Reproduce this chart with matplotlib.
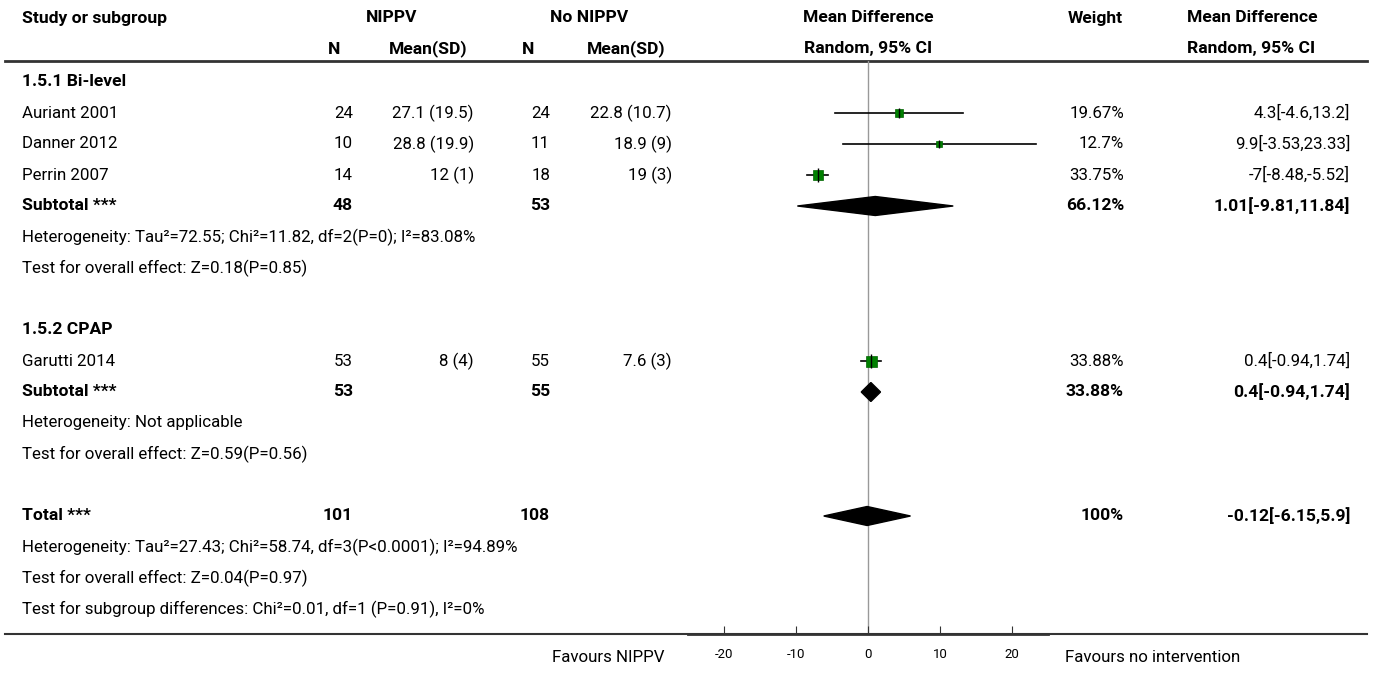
import matplotlib.pyplot as plt
import matplotlib
from matplotlib.patches import Polygon

plt.rcParams['font.family'] = ['Roboto', 'DejaVu Sans']

# study data
studies = ["Auriant 2001", "Danner 2012", "Perrin 2007", "Garutti 2014"]
group_of = [0, 0, 0, 1]
n_nippv = [24, 10, 14, 53]
mean_nippv = [27.1, 28.8, 12, 8]
sd_nippv = [19.5, 19.9, 1, 4]
n_ctrl = [24, 11, 18, 55]
mean_ctrl = [22.8, 18.9, 19, 7.6]
sd_ctrl = [10.7, 9, 3, 3]
md = [4.3, 9.9, -7, 0.4]
md_lo = [-4.6, -3.53, -8.48, -0.94]
md_hi = [13.2, 23.33, -5.52, 1.74]
weights = [19.67, 12.7, 33.75, 33.88]

# subgroups + total
group_names = ["1.5.1 Bi-level", "1.5.2 CPAP"]
sub_n_nippv = [48, 53]
sub_n_ctrl = [53, 55]
sub_md = [1.01, 0.4]
sub_lo = [-9.81, -0.94]
sub_hi = [11.84, 1.74]
sub_weight = [66.12, 33.88]
sub_het = ["Heterogeneity: Tau²=72.55; Chi²=11.82, df=2(P=0); I²=83.08%",
           "Heterogeneity: Not applicable"]
sub_test = ["Test for overall effect: Z=0.18(P=0.85)",
            "Test for overall effect: Z=0.59(P=0.56)"]

tot_n_nippv = 101
tot_n_ctrl = 108
tot_md, tot_lo, tot_hi = -0.12, -6.15, 5.9
tot_weight = 100
tot_notes = ["Heterogeneity: Tau²=27.43; Chi²=58.74, df=3(P<0.0001); I²=94.89%",
             "Test for overall effect: Z=0.04(P=0.97)",
             "Test for subgroup differences: Chi²=0.01, df=1 (P=0.91), I²=0%"]

axis_ticks = [-20, -10, 0, 10, 20]

W, H = 1373, 675
FS = 12.2
FS_B = 12.6
fig = plt.figure(figsize=(W / 100, H / 100), dpi=100)
ax = fig.add_axes([0, 0, 1, 1])
ax.set_xlim(0, W)
ax.set_ylim(H, 0)
ax.axis('off')

# column x positions (pixels)
x_name = 22
x_n1, x_m1 = 353, 474
x_n2, x_m2 = 550, 672
x_w = 1124
x_ci = 1350
x_ci_head = 1187

line_top, line_bot = 61, 634
fx0, fx1 = 688, 1048

fa = fig.add_axes([fx0 / W, 1 - line_bot / H, (fx1 - fx0) / W, (line_bot - line_top) / H])
fa.set_xlim(-25, 25)
fa.set_ylim(line_bot, line_top)
fa.patch.set_alpha(0)
for s in ['top', 'left', 'right']:
    fa.spines[s].set_visible(False)
fa.spines['bottom'].set_linewidth(2)
fa.spines['bottom'].set_color('#333333')
fa.set_yticks([])
fa.set_xticks(axis_ticks)
fa.set_xticklabels([str(t) for t in axis_ticks])
fa.tick_params(axis='x', direction='in', length=6, width=0.8, color='#333333',
               pad=10, labelsize=9.5)
fa.axvline(0, color='#999999', lw=1, zorder=0)


def txt(x, y, s, ha='left', bold=False):
    ax.text(x, y, s, ha=ha, va='center', fontsize=FS_B if bold else FS,
            fontweight='bold' if bold else 'normal', color='black')


# header
txt(x_name, 18, "Study or subgroup", bold=True)
txt(392, 18, "NIPPV", ha='center', bold=True)
txt(589, 18, "No NIPPV", ha='center', bold=True)
txt(868, 18, "Mean Difference", ha='center', bold=True)
txt(x_w - 1, 18, "Weight", ha='right', bold=True)
txt(x_ci_head, 18, "Mean Difference", bold=True)
txt(334, 49, "N", ha='center', bold=True)
txt(468, 49, "Mean(SD)", ha='right', bold=True)
txt(528, 49, "N", ha='center', bold=True)
txt(666, 49, "Mean(SD)", ha='right', bold=True)
txt(868, 49, "Random, 95% CI", ha='center', bold=True)
txt(x_ci_head, 49, "Random, 95% CI", bold=True)
ax.plot([5, 1367], [line_top, line_top], color='#333333', lw=2)
ax.plot([5, 1367], [line_bot, line_bot], color='#333333', lw=1.5)


def diamond(y, c, lo, hi):
    h = 9.5
    fa.add_patch(Polygon([[lo, y], [c, y - h], [hi, y], [c, y + h]],
                         closed=True, color='black', zorder=3))


def ci_text(m, lo, hi):
    return f"{m:g}[{lo:g},{hi:g}]"


pitch = 31
y = 82
for g, gname in enumerate(group_names):
    txt(x_name, y, gname, bold=True)
    y += pitch
    for i in range(len(studies)):
        if group_of[i] != g:
            continue
        txt(x_name, y, studies[i])
        txt(x_n1, y, str(n_nippv[i]), ha='right')
        txt(x_m1, y, f"{mean_nippv[i]:g} ({sd_nippv[i]:g})", ha='right')
        txt(x_n2, y, str(n_ctrl[i]), ha='right')
        txt(x_m2, y, f"{mean_ctrl[i]:g} ({sd_ctrl[i]:g})", ha='right')
        txt(x_w, y, f"{weights[i]:g}%", ha='right')
        txt(x_ci, y, ci_text(md[i], md_lo[i], md_hi[i]), ha='right')
        side = 11 * (weights[i] / 33.88) ** 0.8
        fa.plot([md_lo[i], md_hi[i]], [y, y], color='black', lw=1.2, zorder=2)
        fa.plot(md[i], y, marker='s', ms=side * 0.72, color='#008000',
                mec='#006400', mew=0.5, zorder=3)
        fa.plot(md[i], y, marker='|', ms=side * 0.72 + 2, color='black',
                mew=1, zorder=4)
        y += pitch
    txt(x_name, y, "Subtotal ***", bold=True)
    txt(x_n1, y, str(sub_n_nippv[g]), ha='right', bold=True)
    txt(x_n2, y, str(sub_n_ctrl[g]), ha='right', bold=True)
    txt(x_w, y, f"{sub_weight[g]:g}%", ha='right', bold=True)
    txt(x_ci, y, ci_text(sub_md[g], sub_lo[g], sub_hi[g]), ha='right', bold=True)
    diamond(y, sub_md[g], sub_lo[g], sub_hi[g])
    y += pitch
    txt(x_name, y, sub_het[g])
    y += pitch
    txt(x_name, y, sub_test[g])
    y += 2 * pitch

txt(x_name, y, "Total ***", bold=True)
txt(x_n1, y, str(tot_n_nippv), ha='right', bold=True)
txt(x_n2, y, str(tot_n_ctrl), ha='right', bold=True)
txt(x_w, y, f"{tot_weight:g}%", ha='right', bold=True)
txt(x_ci, y, ci_text(tot_md, tot_lo, tot_hi), ha='right', bold=True)
diamond(y, tot_md, tot_lo, tot_hi)
for note in tot_notes:
    y += pitch
    txt(x_name, y, note)

txt(664, 657, "Favours NIPPV", ha='right')
txt(1065, 657, "Favours no intervention")

fig.savefig("out.png", dpi=100)
